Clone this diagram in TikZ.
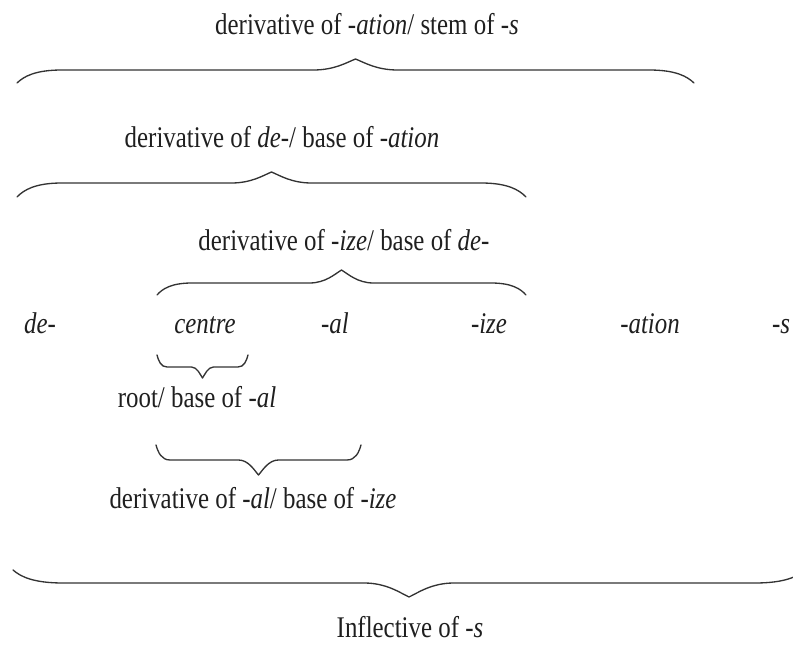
\documentclass[tikz,border=0pt]{standalone}
\usepackage{fontspec}
\setmainfont[FakeStretch=0.83]{Liberation Serif}
\usepackage{tikz}
\usetikzlibrary{positioning}

\tikzset{
  lbl/.style={anchor=base, inner sep=0pt, font=\fontsize{22.5}{27}\selectfont, text=black!88},
  brace line/.style={draw=black!80, line width=1pt, line cap=round, line join=round}
}

\begin{document}
\begin{tikzpicture}[x=0.75pt, y=-0.75pt]
	\useasboundingbox (0,0) rectangle (793,645);
	\clip (0,0) rectangle (793,645);
	% labels over the braces
	\node[lbl] (stem) at (367, 35){derivative of \textit{-ation}/ stem of \textit{-s}};
	\node[lbl] (baseation) at (282,148){derivative of \textit{de-}/ base of \textit{-ation}};
	\node[lbl] (basede) at (344,251){derivative of \textit{-ize}/ base of \textit{de-}};
	% the word
	\node[lbl] (de) at ( 40,334){\textit{de-}};
	\node[lbl] (centre) at (205,334){\textit{centre}};
	\node[lbl] (al) at (335,334){\textit{-al}};
	\node[lbl] (ize) at (489,334){\textit{-ize}};
	\node[lbl] (ation) at (650,334){\textit{-ation}};
	\node[lbl] (s) at (781,334){\textit{-s}};
	% labels under the braces
	\node[lbl] (root) at (197,407){root/ base of \textit{-al}};
	\node[lbl] (baseize) at (253,508){derivative of \textit{-al}/ base of \textit{-ize}};
	\node[lbl] (inflective) at (410,637){Inflective of \textit{-s}};
	% braces: left x / right x / end y / line y / tip y / end curve / tip curve
	\foreach \xl/\xr/\ye/\yl/\yt/\ce/\ct in {17/694/83/70/59/45/42, 17/526/197/183/172/45/40,
	    157/526/295/283/270/35/32, 157/248/355/367/378/10/11, 156/361/445/460/475/14/20,
	    13/805/570/583/597/50/45}{
		\pgfmathsetmacro\xm{(\xl+\xr)/2}
		\path[brace line] (\xl,\ye) .. controls ({\xl+0.15*\ce},{\ye-0.5*(\ye-\yl)}) and ({\xl+0.4*\ce},\yl) .. ({\xl+\ce},\yl)
		    -- ({\xm-\ct},\yl) .. controls ({\xm-0.5*\ct},\yl) and ({\xm-0.2*\ct},{\yt+0.3*(\yl-\yt)}) .. (\xm,\yt)
		    .. controls ({\xm+0.2*\ct},{\yt+0.3*(\yl-\yt)}) and ({\xm+0.5*\ct},\yl) .. ({\xm+\ct},\yl)
		    -- ({\xr-\ce},\yl) .. controls ({\xr-0.4*\ce},\yl) and ({\xr-0.15*\ce},{\ye-0.5*(\ye-\yl)}) .. (\xr,\ye);
	}
\end{tikzpicture}
\end{document}
